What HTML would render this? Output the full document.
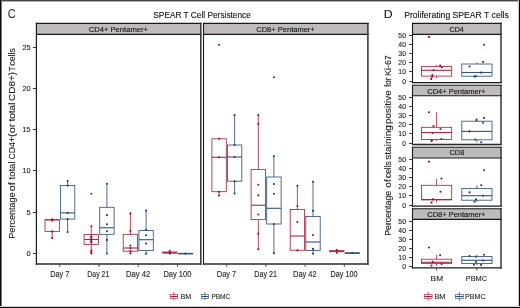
<!DOCTYPE html>
<html><head><meta charset="utf-8"><title>SPEAR T Cell Persistence</title>
<style>
html,body{margin:0;padding:0;background:#fff;}
body{width:520px;height:308px;overflow:hidden;font-family:"Liberation Sans",sans-serif;}
svg{display:block;will-change:transform;}
</style></head><body>
<svg xmlns="http://www.w3.org/2000/svg" width="520" height="308" viewBox="0 0 520 308" font-family="Liberation Sans, sans-serif">
<rect x="0" y="0" width="520" height="308" fill="#ffffff" stroke="none" stroke-width="1.0" />
<text x="7.70" y="17.85" font-size="12.48" fill="#333" text-anchor="start" textLength="7.85" lengthAdjust="spacingAndGlyphs"  stroke="#333" stroke-width="0.12">C</text>
<text x="153.30" y="17.75" font-size="8.98" fill="#111111" text-anchor="start" textLength="97.55" lengthAdjust="spacingAndGlyphs"  stroke="#111111" stroke-width="0.12">SPEAR T Cell Persistence</text>
<rect x="36.4" y="23.4" width="164.4" height="11.0" fill="#bebbbb" stroke="none" stroke-width="1.0" />
<line x1="35.8" y1="23.4" x2="201.55" y2="23.4" stroke="#1a1a1a" stroke-width="1.1" />
<line x1="35.8" y1="34.4" x2="201.55" y2="34.4" stroke="#1a1a1a" stroke-width="1.1" />
<line x1="35.8" y1="264.0" x2="201.55" y2="264.0" stroke="#2a2a2a" stroke-width="1.4" />
<line x1="36.4" y1="22.849999999999998" x2="36.4" y2="264.7" stroke="#1a1a1a" stroke-width="1.2" />
<line x1="200.8" y1="22.849999999999998" x2="200.8" y2="264.7" stroke="#333" stroke-width="1.5" />
<text x="88.75" y="31.50" font-size="7.6" fill="#111111" text-anchor="start" textLength="59.25" lengthAdjust="spacingAndGlyphs"  stroke="#111111" stroke-width="0.12">CD4+ Pentamer+</text>
<rect x="203.5" y="23.4" width="164.39999999999998" height="11.0" fill="#bebbbb" stroke="none" stroke-width="1.0" />
<line x1="202.95" y1="23.4" x2="368.7" y2="23.4" stroke="#1a1a1a" stroke-width="1.1" />
<line x1="202.95" y1="34.4" x2="368.7" y2="34.4" stroke="#1a1a1a" stroke-width="1.1" />
<line x1="202.95" y1="264.0" x2="368.7" y2="264.0" stroke="#2a2a2a" stroke-width="1.4" />
<line x1="203.5" y1="22.849999999999998" x2="203.5" y2="264.7" stroke="#1a1a1a" stroke-width="1.1" />
<line x1="367.9" y1="22.849999999999998" x2="367.9" y2="264.7" stroke="#3a3a3a" stroke-width="1.6" />
<text x="256.25" y="31.50" font-size="7.6" fill="#111111" text-anchor="start" textLength="58.50" lengthAdjust="spacingAndGlyphs"  stroke="#111111" stroke-width="0.12">CD8+ Pentamer+</text>
<line x1="32.9" y1="253.5" x2="36.4" y2="253.5" stroke="#333" stroke-width="1.0" />
<text x="30.65" y="256.00" font-size="7.3" fill="#262626" text-anchor="end"  stroke="#262626" stroke-width="0.12">0</text>
<line x1="32.9" y1="212.5" x2="36.4" y2="212.5" stroke="#333" stroke-width="1.0" />
<text x="30.60" y="214.85" font-size="7.59" fill="#262626" text-anchor="end"  stroke="#262626" stroke-width="0.12">5</text>
<line x1="32.9" y1="170.5" x2="36.4" y2="170.5" stroke="#333" stroke-width="1.0" />
<text x="30.60" y="173.45" font-size="7.3" fill="#262626" text-anchor="end"  stroke="#262626" stroke-width="0.12">10</text>
<line x1="32.9" y1="129.5" x2="36.4" y2="129.5" stroke="#333" stroke-width="1.0" />
<text x="30.60" y="132.30" font-size="7.59" fill="#262626" text-anchor="end"  stroke="#262626" stroke-width="0.12">15</text>
<line x1="32.9" y1="88.5" x2="36.4" y2="88.5" stroke="#333" stroke-width="1.0" />
<text x="30.60" y="91.15" font-size="7.3" fill="#262626" text-anchor="end"  stroke="#262626" stroke-width="0.12">20</text>
<line x1="32.9" y1="47.5" x2="36.4" y2="47.5" stroke="#333" stroke-width="1.0" />
<text x="30.60" y="50.00" font-size="7.3" fill="#262626" text-anchor="end"  stroke="#262626" stroke-width="0.12">25</text>
<text transform="translate(14.70,238.70) rotate(-90)" font-size="9" fill="#222" text-anchor="start" textLength="46.35" lengthAdjust="spacingAndGlyphs"  stroke="#222" stroke-width="0.12">Percentage</text>
<text transform="translate(14.70,191.15) rotate(-90)" font-size="9" fill="#222" text-anchor="start" textLength="8.85" lengthAdjust="spacingAndGlyphs"  stroke="#222" stroke-width="0.12">of</text>
<text transform="translate(14.70,179.50) rotate(-90)" font-size="9" fill="#222" text-anchor="start" textLength="18.05" lengthAdjust="spacingAndGlyphs"  stroke="#222" stroke-width="0.12">total</text>
<text transform="translate(14.70,159.55) rotate(-90)" font-size="9" fill="#222" text-anchor="start" textLength="22.65" lengthAdjust="spacingAndGlyphs"  stroke="#222" stroke-width="0.12">CD4+</text>
<text transform="translate(14.70,136.90) rotate(-90)" font-size="9" fill="#222" text-anchor="start" textLength="13.35" lengthAdjust="spacingAndGlyphs"  stroke="#222" stroke-width="0.12">(or</text>
<text transform="translate(14.70,121.50) rotate(-90)" font-size="9" fill="#222" text-anchor="start" textLength="18.90" lengthAdjust="spacingAndGlyphs"  stroke="#222" stroke-width="0.12">total</text>
<text transform="translate(14.70,100.95) rotate(-90)" font-size="9" fill="#222" text-anchor="start" textLength="29.00" lengthAdjust="spacingAndGlyphs"  stroke="#222" stroke-width="0.12">CD8+)</text>
<text transform="translate(14.70,71.25) rotate(-90)" font-size="9" fill="#222" text-anchor="start" textLength="4.75" lengthAdjust="spacingAndGlyphs"  stroke="#222" stroke-width="0.12">T</text>
<text transform="translate(14.70,65.75) rotate(-90)" font-size="9" fill="#222" text-anchor="start" textLength="17.60" lengthAdjust="spacingAndGlyphs"  stroke="#222" stroke-width="0.12">cells</text>
<line x1="59.8" y1="264.5" x2="59.8" y2="266.8" stroke="#333" stroke-width="0.9" />
<text x="59.84" y="277.05" font-size="8.3" fill="#262626" text-anchor="middle" textLength="19.25" lengthAdjust="spacingAndGlyphs"  stroke="#262626" stroke-width="0.12">Day 7</text>
<line x1="99.0" y1="264.5" x2="99.0" y2="266.8" stroke="#333" stroke-width="0.9" />
<text x="98.34" y="277.05" font-size="8.3" fill="#262626" text-anchor="middle" textLength="22.00" lengthAdjust="spacingAndGlyphs"  stroke="#262626" stroke-width="0.12">Day 21</text>
<line x1="138.2" y1="264.5" x2="138.2" y2="266.8" stroke="#333" stroke-width="0.9" />
<text x="138.22" y="277.05" font-size="8.3" fill="#262626" text-anchor="middle" textLength="24.25" lengthAdjust="spacingAndGlyphs"  stroke="#262626" stroke-width="0.12">Day 42</text>
<line x1="177.4" y1="264.5" x2="177.4" y2="266.8" stroke="#333" stroke-width="0.9" />
<text x="177.40" y="277.05" font-size="8.3" fill="#262626" text-anchor="middle" textLength="28.00" lengthAdjust="spacingAndGlyphs"  stroke="#262626" stroke-width="0.12">Day 100</text>
<line x1="226.7" y1="264.5" x2="226.7" y2="266.8" stroke="#333" stroke-width="0.9" />
<text x="226.50" y="277.05" font-size="8.3" fill="#262626" text-anchor="middle" textLength="19.50" lengthAdjust="spacingAndGlyphs"  stroke="#262626" stroke-width="0.12">Day 7</text>
<line x1="265.9" y1="264.5" x2="265.9" y2="266.8" stroke="#333" stroke-width="0.9" />
<text x="265.64" y="277.05" font-size="8.3" fill="#262626" text-anchor="middle" textLength="22.75" lengthAdjust="spacingAndGlyphs"  stroke="#262626" stroke-width="0.12">Day 21</text>
<line x1="305.1" y1="264.5" x2="305.1" y2="266.8" stroke="#333" stroke-width="0.9" />
<text x="304.86" y="277.05" font-size="8.3" fill="#262626" text-anchor="middle" textLength="23.50" lengthAdjust="spacingAndGlyphs"  stroke="#262626" stroke-width="0.12">Day 42</text>
<line x1="344.3" y1="264.5" x2="344.3" y2="266.8" stroke="#333" stroke-width="0.9" />
<text x="344.09" y="277.05" font-size="8.3" fill="#262626" text-anchor="middle" textLength="27.00" lengthAdjust="spacingAndGlyphs"  stroke="#262626" stroke-width="0.12">Day 100</text>
<line x1="52.2" y1="231.4" x2="52.2" y2="238.0" stroke="#a52a40" stroke-width="0.85" />
<rect x="45.0" y="219.8" width="14.4" height="11.599999999999994" fill="none" stroke="#a52a40" stroke-width="0.85" />
<line x1="45.0" y1="219.8" x2="59.400000000000006" y2="219.8" stroke="#a52a40" stroke-width="1.105" />
<circle cx="52.2" cy="219.2" r="1.05" fill="#9e0b25"/>
<circle cx="52.2" cy="220.6" r="1.05" fill="#9e0b25"/>
<circle cx="52.2" cy="231.4" r="1.05" fill="#9e0b25"/>
<circle cx="52.2" cy="238.0" r="1.05" fill="#9e0b25"/>
<line x1="67.6" y1="181.1" x2="67.6" y2="185.5" stroke="#33527f" stroke-width="0.85" />
<line x1="67.6" y1="219.1" x2="67.6" y2="232.1" stroke="#33527f" stroke-width="0.85" />
<rect x="60.39999999999999" y="185.5" width="14.4" height="33.599999999999994" fill="none" stroke="#33527f" stroke-width="0.85" />
<line x1="60.39999999999999" y1="212.9" x2="74.8" y2="212.9" stroke="#33527f" stroke-width="1.105" />
<circle cx="67.6" cy="181.1" r="1.05" fill="#1c3b6e"/>
<circle cx="67.6" cy="185.5" r="1.05" fill="#1c3b6e"/>
<circle cx="67.6" cy="212.9" r="1.05" fill="#1c3b6e"/>
<circle cx="67.6" cy="219.1" r="1.05" fill="#1c3b6e"/>
<circle cx="67.6" cy="232.1" r="1.05" fill="#1c3b6e"/>
<line x1="91.3" y1="226.3" x2="91.3" y2="234.5" stroke="#a52a40" stroke-width="0.85" />
<line x1="91.3" y1="244.4" x2="91.3" y2="253.6" stroke="#a52a40" stroke-width="0.85" />
<rect x="84.1" y="234.5" width="14.4" height="9.900000000000006" fill="none" stroke="#a52a40" stroke-width="0.85" />
<line x1="84.1" y1="239.5" x2="98.5" y2="239.5" stroke="#a52a40" stroke-width="1.105" />
<circle cx="91.3" cy="193.8" r="1.05" fill="#9e0b25"/>
<circle cx="91.3" cy="226.3" r="1.05" fill="#9e0b25"/>
<circle cx="91.3" cy="236.3" r="1.05" fill="#9e0b25"/>
<circle cx="91.3" cy="237.6" r="1.05" fill="#9e0b25"/>
<circle cx="91.3" cy="239.0" r="1.05" fill="#9e0b25"/>
<circle cx="91.3" cy="240.4" r="1.05" fill="#9e0b25"/>
<circle cx="91.3" cy="241.8" r="1.05" fill="#9e0b25"/>
<circle cx="91.3" cy="242.6" r="1.05" fill="#9e0b25"/>
<circle cx="91.3" cy="250.6" r="1.05" fill="#9e0b25"/>
<circle cx="91.3" cy="252.2" r="1.05" fill="#9e0b25"/>
<circle cx="91.3" cy="253.5" r="1.05" fill="#9e0b25"/>
<line x1="106.9" y1="183.7" x2="106.9" y2="207.3" stroke="#33527f" stroke-width="0.85" />
<line x1="106.9" y1="234.3" x2="106.9" y2="253.5" stroke="#33527f" stroke-width="0.85" />
<rect x="99.7" y="207.3" width="14.4" height="27.0" fill="none" stroke="#33527f" stroke-width="0.85" />
<line x1="99.7" y1="227.8" x2="114.10000000000001" y2="227.8" stroke="#33527f" stroke-width="1.105" />
<circle cx="106.9" cy="183.7" r="1.05" fill="#1c3b6e"/>
<circle cx="106.9" cy="215.1" r="1.05" fill="#1c3b6e"/>
<circle cx="106.9" cy="224.3" r="1.05" fill="#1c3b6e"/>
<circle cx="106.9" cy="231.3" r="1.05" fill="#1c3b6e"/>
<circle cx="106.9" cy="239.9" r="1.05" fill="#1c3b6e"/>
<circle cx="106.9" cy="253.5" r="1.05" fill="#1c3b6e"/>
<line x1="130.4" y1="213.4" x2="130.4" y2="234.3" stroke="#a52a40" stroke-width="0.85" />
<line x1="130.4" y1="251.2" x2="130.4" y2="253.5" stroke="#a52a40" stroke-width="0.85" />
<rect x="123.2" y="234.3" width="14.4" height="16.899999999999977" fill="none" stroke="#a52a40" stroke-width="0.85" />
<line x1="123.2" y1="248.0" x2="137.6" y2="248.0" stroke="#a52a40" stroke-width="1.105" />
<circle cx="130.4" cy="213.4" r="1.05" fill="#9e0b25"/>
<circle cx="130.4" cy="230.9" r="1.05" fill="#9e0b25"/>
<circle cx="130.4" cy="245.5" r="1.05" fill="#9e0b25"/>
<circle cx="130.4" cy="248.0" r="1.05" fill="#9e0b25"/>
<circle cx="130.4" cy="251.0" r="1.05" fill="#9e0b25"/>
<circle cx="130.4" cy="253.5" r="1.05" fill="#9e0b25"/>
<line x1="146.1" y1="210.6" x2="146.1" y2="230.5" stroke="#33527f" stroke-width="0.85" />
<line x1="146.1" y1="250.6" x2="146.1" y2="253.8" stroke="#33527f" stroke-width="0.85" />
<rect x="138.9" y="230.5" width="14.4" height="20.099999999999994" fill="none" stroke="#33527f" stroke-width="0.85" />
<line x1="138.9" y1="239.7" x2="153.29999999999998" y2="239.7" stroke="#33527f" stroke-width="1.105" />
<circle cx="146.1" cy="210.6" r="1.05" fill="#1c3b6e"/>
<circle cx="146.1" cy="229.8" r="1.05" fill="#1c3b6e"/>
<circle cx="146.1" cy="235.3" r="1.05" fill="#1c3b6e"/>
<circle cx="146.1" cy="243.6" r="1.05" fill="#1c3b6e"/>
<circle cx="146.1" cy="253.8" r="1.05" fill="#1c3b6e"/>
<rect x="162.60000000000002" y="252.0" width="14.4" height="1.0999999999999943" fill="none" stroke="#a52a40" stroke-width="0.85" />
<line x1="162.60000000000002" y1="252.6" x2="177.0" y2="252.6" stroke="#a52a40" stroke-width="1.105" />
<circle cx="169.8" cy="250.8" r="1.05" fill="#9e0b25"/>
<circle cx="169.8" cy="252.6" r="1.05" fill="#9e0b25"/>
<circle cx="169.8" cy="253.6" r="1.05" fill="#9e0b25"/>
<rect x="178.20000000000002" y="253.3" width="14.4" height="0.5999999999999943" fill="none" stroke="#33527f" stroke-width="0.85" />
<line x1="178.20000000000002" y1="253.6" x2="192.6" y2="253.6" stroke="#33527f" stroke-width="1.105" />
<circle cx="185.4" cy="253.6" r="1.05" fill="#1c3b6e"/>
<line x1="219.1" y1="191.7" x2="219.1" y2="195.6" stroke="#a52a40" stroke-width="0.85" />
<rect x="211.9" y="138.8" width="14.4" height="52.89999999999998" fill="none" stroke="#a52a40" stroke-width="0.85" />
<line x1="211.9" y1="157.3" x2="226.29999999999998" y2="157.3" stroke="#a52a40" stroke-width="1.105" />
<circle cx="219.1" cy="44.8" r="1.05" fill="#9e0b25"/>
<circle cx="219.1" cy="138.8" r="1.05" fill="#9e0b25"/>
<circle cx="219.1" cy="157.3" r="1.05" fill="#9e0b25"/>
<circle cx="219.1" cy="191.7" r="1.05" fill="#9e0b25"/>
<circle cx="219.1" cy="195.6" r="1.05" fill="#9e0b25"/>
<line x1="234.6" y1="115.1" x2="234.6" y2="145.0" stroke="#33527f" stroke-width="0.85" />
<line x1="234.6" y1="181.2" x2="234.6" y2="193.5" stroke="#33527f" stroke-width="0.85" />
<rect x="227.4" y="145.0" width="14.4" height="36.19999999999999" fill="none" stroke="#33527f" stroke-width="0.85" />
<line x1="227.4" y1="157.0" x2="241.79999999999998" y2="157.0" stroke="#33527f" stroke-width="1.105" />
<circle cx="234.6" cy="115.1" r="1.05" fill="#1c3b6e"/>
<circle cx="234.6" cy="145.0" r="1.05" fill="#1c3b6e"/>
<circle cx="234.6" cy="157.0" r="1.05" fill="#1c3b6e"/>
<circle cx="234.6" cy="181.2" r="1.05" fill="#1c3b6e"/>
<circle cx="234.6" cy="193.5" r="1.05" fill="#1c3b6e"/>
<line x1="258.3" y1="115.1" x2="258.3" y2="169.4" stroke="#a52a40" stroke-width="0.85" />
<line x1="258.3" y1="219.6" x2="258.3" y2="249.3" stroke="#a52a40" stroke-width="0.85" />
<rect x="251.10000000000002" y="169.4" width="14.4" height="50.19999999999999" fill="none" stroke="#a52a40" stroke-width="0.85" />
<line x1="251.10000000000002" y1="205.2" x2="265.5" y2="205.2" stroke="#a52a40" stroke-width="1.105" />
<circle cx="258.3" cy="115.1" r="1.05" fill="#9e0b25"/>
<circle cx="258.3" cy="123.8" r="1.05" fill="#9e0b25"/>
<circle cx="258.3" cy="184.8" r="1.05" fill="#9e0b25"/>
<circle cx="258.3" cy="195.4" r="1.05" fill="#9e0b25"/>
<circle cx="258.3" cy="214.5" r="1.05" fill="#9e0b25"/>
<circle cx="258.3" cy="233.6" r="1.05" fill="#9e0b25"/>
<circle cx="258.3" cy="249.3" r="1.05" fill="#9e0b25"/>
<line x1="273.9" y1="156.2" x2="273.9" y2="177.0" stroke="#33527f" stroke-width="0.85" />
<line x1="273.9" y1="224.0" x2="273.9" y2="253.3" stroke="#33527f" stroke-width="0.85" />
<rect x="266.7" y="177.0" width="14.4" height="47.0" fill="none" stroke="#33527f" stroke-width="0.85" />
<line x1="266.7" y1="208.3" x2="281.09999999999997" y2="208.3" stroke="#33527f" stroke-width="1.105" />
<circle cx="273.9" cy="77.3" r="1.05" fill="#1c3b6e"/>
<circle cx="273.9" cy="156.2" r="1.05" fill="#1c3b6e"/>
<circle cx="273.9" cy="184.0" r="1.05" fill="#1c3b6e"/>
<circle cx="273.9" cy="193.8" r="1.05" fill="#1c3b6e"/>
<circle cx="273.9" cy="224.0" r="1.05" fill="#1c3b6e"/>
<circle cx="273.9" cy="253.3" r="1.05" fill="#1c3b6e"/>
<line x1="297.4" y1="185.8" x2="297.4" y2="209.5" stroke="#a52a40" stroke-width="0.85" />
<rect x="290.2" y="209.5" width="14.4" height="40.69999999999999" fill="none" stroke="#a52a40" stroke-width="0.85" />
<line x1="290.2" y1="236.0" x2="304.59999999999997" y2="236.0" stroke="#a52a40" stroke-width="1.105" />
<circle cx="297.4" cy="185.8" r="1.05" fill="#9e0b25"/>
<circle cx="297.4" cy="206.0" r="1.05" fill="#9e0b25"/>
<circle cx="297.4" cy="222.0" r="1.05" fill="#9e0b25"/>
<circle cx="297.4" cy="250.4" r="1.05" fill="#9e0b25"/>
<line x1="313.0" y1="181.8" x2="313.0" y2="216.5" stroke="#33527f" stroke-width="0.85" />
<line x1="313.0" y1="250.4" x2="313.0" y2="253.8" stroke="#33527f" stroke-width="0.85" />
<rect x="305.8" y="216.5" width="14.4" height="33.900000000000006" fill="none" stroke="#33527f" stroke-width="0.85" />
<line x1="305.8" y1="242.0" x2="320.2" y2="242.0" stroke="#33527f" stroke-width="1.105" />
<circle cx="313.0" cy="181.8" r="1.05" fill="#1c3b6e"/>
<circle cx="313.0" cy="210.8" r="1.05" fill="#1c3b6e"/>
<circle cx="313.0" cy="235.0" r="1.05" fill="#1c3b6e"/>
<circle cx="313.0" cy="248.9" r="1.05" fill="#1c3b6e"/>
<circle cx="313.0" cy="253.8" r="1.05" fill="#1c3b6e"/>
<rect x="329.6" y="250.7" width="14.4" height="1.0" fill="none" stroke="#a52a40" stroke-width="0.85" />
<line x1="329.6" y1="251.2" x2="344.0" y2="251.2" stroke="#a52a40" stroke-width="1.105" />
<circle cx="336.8" cy="250.0" r="1.05" fill="#9e0b25"/>
<circle cx="336.8" cy="252.8" r="1.05" fill="#9e0b25"/>
<rect x="345.1" y="252.8" width="14.4" height="0.5999999999999943" fill="none" stroke="#33527f" stroke-width="0.85" />
<line x1="345.1" y1="253.1" x2="359.5" y2="253.1" stroke="#33527f" stroke-width="1.105" />
<circle cx="352.3" cy="253.1" r="1.05" fill="#1c3b6e"/>
<line x1="173.85" y1="292.2" x2="173.85" y2="294.5" stroke="#a52a40" stroke-width="0.85" />
<line x1="173.85" y1="298.5" x2="173.85" y2="300.0" stroke="#a52a40" stroke-width="0.85" />
<rect x="170.2" y="294.5" width="7.300000000000011" height="4.0" fill="none" stroke="#a52a40" stroke-width="0.765" stroke-opacity="0.85"/>
<line x1="170.2" y1="296.5" x2="177.5" y2="296.5" stroke="#a52a40" stroke-width="1.0" />
<circle cx="173.85" cy="296.5" r="0.95" fill="#9e0b25"/>
<text x="180.40" y="298.75" font-size="7.65" fill="#262626" text-anchor="start" textLength="10.80" lengthAdjust="spacingAndGlyphs"  stroke="#262626" stroke-width="0.12">BM</text>
<line x1="204.9" y1="292.3" x2="204.9" y2="294.5" stroke="#33527f" stroke-width="0.85" />
<line x1="204.9" y1="298.5" x2="204.9" y2="299.8" stroke="#33527f" stroke-width="0.85" />
<rect x="201.3" y="294.5" width="7.199999999999989" height="4.0" fill="none" stroke="#33527f" stroke-width="0.765" stroke-opacity="0.85"/>
<line x1="201.3" y1="296.5" x2="208.5" y2="296.5" stroke="#33527f" stroke-width="1.0" />
<circle cx="204.9" cy="296.5" r="0.95" fill="#1c3b6e"/>
<text x="211.40" y="298.75" font-size="7.8" fill="#262626" text-anchor="start" textLength="18.75" lengthAdjust="spacingAndGlyphs"  stroke="#262626" stroke-width="0.12">PBMC</text>
<text x="383.85" y="17.50" font-size="11.4" fill="#222" text-anchor="start" textLength="8.90" lengthAdjust="spacingAndGlyphs"  stroke="#222" stroke-width="0.12">D</text>
<text x="404.15" y="17.50" font-size="9" fill="#111111" text-anchor="start" textLength="104.70" lengthAdjust="spacingAndGlyphs"  stroke="#111111" stroke-width="0.12">Proliferating SPEAR T cells</text>
<rect x="412.5" y="23.4" width="88.5" height="11.0" fill="#bebbbb" stroke="none" stroke-width="1.0" />
<line x1="411.95" y1="23.4" x2="501.7" y2="23.4" stroke="#1a1a1a" stroke-width="1.1" />
<line x1="411.95" y1="34.4" x2="501.7" y2="34.4" stroke="#1a1a1a" stroke-width="1.1" />
<line x1="411.95" y1="82.6" x2="501.7" y2="82.6" stroke="#1a1a1a" stroke-width="1.2" />
<line x1="412.5" y1="22.849999999999998" x2="412.5" y2="83.19999999999999" stroke="#1a1a1a" stroke-width="1.1" />
<line x1="501.0" y1="22.849999999999998" x2="501.0" y2="83.19999999999999" stroke="#2a2a2a" stroke-width="1.4" />
<text x="449.50" y="31.50" font-size="7.5" fill="#111111" text-anchor="start" textLength="14.25" lengthAdjust="spacingAndGlyphs"  stroke="#111111" stroke-width="0.12">CD4</text>
<line x1="409.2" y1="81.5" x2="412.5" y2="81.5" stroke="#333" stroke-width="1.0" />
<text x="406.00" y="83.50" font-size="6.87" fill="#262626" text-anchor="end"  stroke="#262626" stroke-width="0.12">0</text>
<line x1="409.2" y1="71.5" x2="412.5" y2="71.5" stroke="#333" stroke-width="1.0" />
<text x="406.00" y="74.35" font-size="6.87" fill="#262626" text-anchor="end"  stroke="#262626" stroke-width="0.12">10</text>
<line x1="409.2" y1="62.5" x2="412.5" y2="62.5" stroke="#333" stroke-width="1.0" />
<text x="406.00" y="65.20" font-size="6.87" fill="#262626" text-anchor="end"  stroke="#262626" stroke-width="0.12">20</text>
<line x1="409.2" y1="53.5" x2="412.5" y2="53.5" stroke="#333" stroke-width="1.0" />
<text x="406.00" y="56.05" font-size="6.87" fill="#262626" text-anchor="end"  stroke="#262626" stroke-width="0.12">30</text>
<line x1="409.2" y1="44.5" x2="412.5" y2="44.5" stroke="#333" stroke-width="1.0" />
<text x="406.00" y="46.90" font-size="6.87" fill="#262626" text-anchor="end"  stroke="#262626" stroke-width="0.12">40</text>
<line x1="409.2" y1="35.5" x2="412.5" y2="35.5" stroke="#333" stroke-width="1.0" />
<text x="406.00" y="38.00" font-size="6.87" fill="#262626" text-anchor="end"  stroke="#262626" stroke-width="0.12">50</text>
<rect x="412.5" y="85.3" width="88.5" height="10.5" fill="#bebbbb" stroke="none" stroke-width="1.0" />
<line x1="411.95" y1="85.3" x2="501.7" y2="85.3" stroke="#1a1a1a" stroke-width="1.1" />
<line x1="411.95" y1="95.8" x2="501.7" y2="95.8" stroke="#1a1a1a" stroke-width="1.1" />
<line x1="411.95" y1="144.3" x2="501.7" y2="144.3" stroke="#1a1a1a" stroke-width="1.2" />
<line x1="412.5" y1="84.75" x2="412.5" y2="144.9" stroke="#1a1a1a" stroke-width="1.1" />
<line x1="501.0" y1="84.75" x2="501.0" y2="144.9" stroke="#2a2a2a" stroke-width="1.4" />
<text x="427.25" y="93.50" font-size="7.5" fill="#111111" text-anchor="start" textLength="58.25" lengthAdjust="spacingAndGlyphs"  stroke="#111111" stroke-width="0.12">CD4+ Pentamer+</text>
<line x1="409.2" y1="143.5" x2="412.5" y2="143.5" stroke="#333" stroke-width="1.0" />
<text x="406.00" y="145.50" font-size="6.87" fill="#262626" text-anchor="end"  stroke="#262626" stroke-width="0.12">0</text>
<line x1="409.2" y1="133.5" x2="412.5" y2="133.5" stroke="#333" stroke-width="1.0" />
<text x="406.00" y="136.35" font-size="6.87" fill="#262626" text-anchor="end"  stroke="#262626" stroke-width="0.12">10</text>
<line x1="409.2" y1="124.5" x2="412.5" y2="124.5" stroke="#333" stroke-width="1.0" />
<text x="406.00" y="127.20" font-size="6.87" fill="#262626" text-anchor="end"  stroke="#262626" stroke-width="0.12">20</text>
<line x1="409.2" y1="115.5" x2="412.5" y2="115.5" stroke="#333" stroke-width="1.0" />
<text x="406.00" y="118.05" font-size="6.87" fill="#262626" text-anchor="end"  stroke="#262626" stroke-width="0.12">30</text>
<line x1="409.2" y1="106.5" x2="412.5" y2="106.5" stroke="#333" stroke-width="1.0" />
<text x="406.00" y="108.90" font-size="6.87" fill="#262626" text-anchor="end"  stroke="#262626" stroke-width="0.12">40</text>
<line x1="409.2" y1="97.5" x2="412.5" y2="97.5" stroke="#333" stroke-width="1.0" />
<text x="406.00" y="100.00" font-size="6.87" fill="#262626" text-anchor="end"  stroke="#262626" stroke-width="0.12">50</text>
<rect x="412.5" y="147.2" width="88.5" height="10.800000000000011" fill="#bebbbb" stroke="none" stroke-width="1.0" />
<line x1="411.95" y1="147.2" x2="501.7" y2="147.2" stroke="#1a1a1a" stroke-width="1.1" />
<line x1="411.95" y1="158.0" x2="501.7" y2="158.0" stroke="#1a1a1a" stroke-width="1.1" />
<line x1="411.95" y1="206.2" x2="501.7" y2="206.2" stroke="#1a1a1a" stroke-width="1.2" />
<line x1="412.5" y1="146.64999999999998" x2="412.5" y2="206.79999999999998" stroke="#1a1a1a" stroke-width="1.1" />
<line x1="501.0" y1="146.64999999999998" x2="501.0" y2="206.79999999999998" stroke="#2a2a2a" stroke-width="1.4" />
<text x="449.50" y="155.25" font-size="7.5" fill="#111111" text-anchor="start" textLength="14.75" lengthAdjust="spacingAndGlyphs"  stroke="#111111" stroke-width="0.12">CD8</text>
<line x1="409.2" y1="205.5" x2="412.5" y2="205.5" stroke="#333" stroke-width="1.0" />
<text x="406.00" y="207.50" font-size="6.87" fill="#262626" text-anchor="end"  stroke="#262626" stroke-width="0.12">0</text>
<line x1="409.2" y1="195.5" x2="412.5" y2="195.5" stroke="#333" stroke-width="1.0" />
<text x="406.00" y="198.35" font-size="6.87" fill="#262626" text-anchor="end"  stroke="#262626" stroke-width="0.12">10</text>
<line x1="409.2" y1="186.5" x2="412.5" y2="186.5" stroke="#333" stroke-width="1.0" />
<text x="406.00" y="189.20" font-size="6.87" fill="#262626" text-anchor="end"  stroke="#262626" stroke-width="0.12">20</text>
<line x1="409.2" y1="177.5" x2="412.5" y2="177.5" stroke="#333" stroke-width="1.0" />
<text x="406.00" y="180.05" font-size="6.87" fill="#262626" text-anchor="end"  stroke="#262626" stroke-width="0.12">30</text>
<line x1="409.2" y1="168.5" x2="412.5" y2="168.5" stroke="#333" stroke-width="1.0" />
<text x="406.00" y="170.90" font-size="6.87" fill="#262626" text-anchor="end"  stroke="#262626" stroke-width="0.12">40</text>
<line x1="409.2" y1="159.5" x2="412.5" y2="159.5" stroke="#333" stroke-width="1.0" />
<text x="406.00" y="161.75" font-size="6.87" fill="#262626" text-anchor="end"  stroke="#262626" stroke-width="0.12">50</text>
<rect x="412.5" y="208.7" width="88.5" height="10.700000000000017" fill="#bebbbb" stroke="none" stroke-width="1.0" />
<line x1="411.95" y1="208.7" x2="501.7" y2="208.7" stroke="#1a1a1a" stroke-width="1.1" />
<line x1="411.95" y1="219.4" x2="501.7" y2="219.4" stroke="#1a1a1a" stroke-width="1.1" />
<line x1="411.95" y1="267.9" x2="501.7" y2="267.9" stroke="#1a1a1a" stroke-width="1.2" />
<line x1="412.5" y1="208.14999999999998" x2="412.5" y2="268.5" stroke="#1a1a1a" stroke-width="1.1" />
<line x1="501.0" y1="208.14999999999998" x2="501.0" y2="268.5" stroke="#2a2a2a" stroke-width="1.4" />
<text x="427.25" y="217.00" font-size="7.5" fill="#111111" text-anchor="start" textLength="58.25" lengthAdjust="spacingAndGlyphs"  stroke="#111111" stroke-width="0.12">CD8+ Pentamer+</text>
<line x1="409.2" y1="266.5" x2="412.5" y2="266.5" stroke="#333" stroke-width="1.0" />
<text x="406.00" y="269.00" font-size="6.87" fill="#262626" text-anchor="end"  stroke="#262626" stroke-width="0.12">0</text>
<line x1="409.2" y1="257.5" x2="412.5" y2="257.5" stroke="#333" stroke-width="1.0" />
<text x="406.00" y="260.10" font-size="6.87" fill="#262626" text-anchor="end"  stroke="#262626" stroke-width="0.12">10</text>
<line x1="409.2" y1="248.5" x2="412.5" y2="248.5" stroke="#333" stroke-width="1.0" />
<text x="406.00" y="250.95" font-size="6.87" fill="#262626" text-anchor="end"  stroke="#262626" stroke-width="0.12">20</text>
<line x1="409.2" y1="239.5" x2="412.5" y2="239.5" stroke="#333" stroke-width="1.0" />
<text x="406.00" y="241.80" font-size="6.87" fill="#262626" text-anchor="end"  stroke="#262626" stroke-width="0.12">30</text>
<line x1="409.2" y1="230.5" x2="412.5" y2="230.5" stroke="#333" stroke-width="1.0" />
<text x="406.00" y="232.65" font-size="6.87" fill="#262626" text-anchor="end"  stroke="#262626" stroke-width="0.12">40</text>
<line x1="409.2" y1="221.5" x2="412.5" y2="221.5" stroke="#333" stroke-width="1.0" />
<text x="406.00" y="223.50" font-size="6.87" fill="#262626" text-anchor="end"  stroke="#262626" stroke-width="0.12">50</text>
<text transform="translate(391.20,235.85) rotate(-90)" font-size="9" fill="#222" text-anchor="start" textLength="45.10" lengthAdjust="spacingAndGlyphs"  stroke="#222" stroke-width="0.12">Percentage</text>
<text transform="translate(391.20,187.65) rotate(-90)" font-size="9" fill="#222" text-anchor="start" textLength="8.30" lengthAdjust="spacingAndGlyphs"  stroke="#222" stroke-width="0.12">of</text>
<text transform="translate(391.20,178.10) rotate(-90)" font-size="9" fill="#222" text-anchor="start" textLength="16.95" lengthAdjust="spacingAndGlyphs"  stroke="#222" stroke-width="0.12">cells</text>
<text transform="translate(391.20,159.75) rotate(-90)" font-size="9" fill="#222" text-anchor="start" textLength="34.65" lengthAdjust="spacingAndGlyphs"  stroke="#222" stroke-width="0.12">staining</text>
<text transform="translate(391.20,124.00) rotate(-90)" font-size="9" fill="#222" text-anchor="start" textLength="33.65" lengthAdjust="spacingAndGlyphs"  stroke="#222" stroke-width="0.12">positive</text>
<text transform="translate(391.20,86.95) rotate(-90)" font-size="9" fill="#222" text-anchor="start" textLength="9.35" lengthAdjust="spacingAndGlyphs"  stroke="#222" stroke-width="0.12">for</text>
<text transform="translate(391.20,75.90) rotate(-90)" font-size="9" fill="#222" text-anchor="start" textLength="20.65" lengthAdjust="spacingAndGlyphs"  stroke="#222" stroke-width="0.12">Ki-67</text>
<line x1="436.6" y1="268.5" x2="436.6" y2="270.6" stroke="#333" stroke-width="0.9" />
<text x="436.84" y="281.00" font-size="7.38" fill="#262626" text-anchor="middle" textLength="12.50" lengthAdjust="spacingAndGlyphs"  stroke="#262626" stroke-width="0.12">BM</text>
<line x1="476.9" y1="268.5" x2="476.9" y2="270.6" stroke="#333" stroke-width="0.9" />
<text x="476.36" y="281.00" font-size="7.35" fill="#262626" text-anchor="middle" textLength="21.25" lengthAdjust="spacingAndGlyphs"  stroke="#262626" stroke-width="0.12">PBMC</text>
<line x1="436.6" y1="65.2" x2="436.6" y2="66.4" stroke="#a52a40" stroke-width="0.85" />
<line x1="436.6" y1="76.1" x2="436.6" y2="78.3" stroke="#a52a40" stroke-width="0.85" />
<rect x="421.5" y="66.4" width="30.2" height="9.699999999999989" fill="none" stroke="#a52a40" stroke-width="0.85" />
<line x1="421.5" y1="70.3" x2="451.70000000000005" y2="70.3" stroke="#a52a40" stroke-width="1.105" />
<circle cx="429.0" cy="36.9" r="1.05" fill="#9e0b25"/>
<circle cx="440.2" cy="65.6" r="1.05" fill="#9e0b25"/>
<circle cx="441.8" cy="67.3" r="1.05" fill="#9e0b25"/>
<circle cx="433.6" cy="70.3" r="1.05" fill="#9e0b25"/>
<circle cx="432.4" cy="75.0" r="1.05" fill="#9e0b25"/>
<circle cx="432.0" cy="76.7" r="1.05" fill="#9e0b25"/>
<circle cx="431.2" cy="78.9" r="1.05" fill="#9e0b25"/>
<line x1="476.9" y1="62.3" x2="476.9" y2="64.0" stroke="#33527f" stroke-width="0.85" />
<line x1="476.9" y1="76.2" x2="476.9" y2="76.6" stroke="#33527f" stroke-width="0.85" />
<rect x="461.79999999999995" y="64.0" width="30.2" height="12.200000000000003" fill="none" stroke="#33527f" stroke-width="0.85" />
<line x1="461.79999999999995" y1="72.5" x2="492.0" y2="72.5" stroke="#33527f" stroke-width="1.105" />
<circle cx="484.1" cy="44.7" r="1.05" fill="#1c3b6e"/>
<circle cx="483.1" cy="61.9" r="1.05" fill="#1c3b6e"/>
<circle cx="469.5" cy="66.5" r="1.05" fill="#1c3b6e"/>
<circle cx="481.2" cy="72.6" r="1.05" fill="#1c3b6e"/>
<circle cx="474.7" cy="76.5" r="1.05" fill="#1c3b6e"/>
<circle cx="475.8" cy="76.2" r="1.05" fill="#1c3b6e"/>
<line x1="436.6" y1="112.2" x2="436.6" y2="127.3" stroke="#a52a40" stroke-width="0.85" />
<line x1="436.6" y1="139.5" x2="436.6" y2="141.0" stroke="#a52a40" stroke-width="0.85" />
<rect x="421.5" y="127.3" width="30.2" height="12.200000000000003" fill="none" stroke="#a52a40" stroke-width="0.85" />
<line x1="421.5" y1="132.5" x2="451.70000000000005" y2="132.5" stroke="#a52a40" stroke-width="1.105" />
<circle cx="429.0" cy="112.2" r="1.05" fill="#9e0b25"/>
<circle cx="433.5" cy="126.0" r="1.05" fill="#9e0b25"/>
<circle cx="440.5" cy="129.0" r="1.05" fill="#9e0b25"/>
<circle cx="432.6" cy="133.0" r="1.05" fill="#9e0b25"/>
<circle cx="441.5" cy="139.0" r="1.05" fill="#9e0b25"/>
<circle cx="432.0" cy="140.2" r="1.05" fill="#9e0b25"/>
<circle cx="431.5" cy="141.0" r="1.05" fill="#9e0b25"/>
<line x1="476.9" y1="118.0" x2="476.9" y2="121.2" stroke="#33527f" stroke-width="0.85" />
<line x1="476.9" y1="139.8" x2="476.9" y2="142.3" stroke="#33527f" stroke-width="0.85" />
<rect x="461.79999999999995" y="121.2" width="30.2" height="18.60000000000001" fill="none" stroke="#33527f" stroke-width="0.85" />
<line x1="461.79999999999995" y1="131.4" x2="492.0" y2="131.4" stroke="#33527f" stroke-width="1.105" />
<circle cx="484.1" cy="117.9" r="1.05" fill="#1c3b6e"/>
<circle cx="483.1" cy="122.8" r="1.05" fill="#1c3b6e"/>
<circle cx="476.3" cy="120.0" r="1.05" fill="#1c3b6e"/>
<circle cx="469.5" cy="131.4" r="1.05" fill="#1c3b6e"/>
<circle cx="475.2" cy="139.5" r="1.05" fill="#1c3b6e"/>
<circle cx="481.2" cy="142.3" r="1.05" fill="#1c3b6e"/>
<line x1="436.6" y1="178.8" x2="436.6" y2="185.3" stroke="#a52a40" stroke-width="0.85" />
<line x1="436.6" y1="199.9" x2="436.6" y2="202.5" stroke="#a52a40" stroke-width="0.85" />
<rect x="421.5" y="185.3" width="30.2" height="14.599999999999994" fill="none" stroke="#a52a40" stroke-width="0.85" />
<line x1="421.5" y1="199.5" x2="451.70000000000005" y2="199.5" stroke="#a52a40" stroke-width="1.105" />
<circle cx="429.0" cy="161.6" r="1.05" fill="#9e0b25"/>
<circle cx="441.5" cy="178.6" r="1.05" fill="#9e0b25"/>
<circle cx="440.5" cy="191.8" r="1.05" fill="#9e0b25"/>
<circle cx="433.0" cy="199.4" r="1.05" fill="#9e0b25"/>
<circle cx="431.5" cy="202.6" r="1.05" fill="#9e0b25"/>
<line x1="476.9" y1="185.3" x2="476.9" y2="188.4" stroke="#33527f" stroke-width="0.85" />
<line x1="476.9" y1="200.2" x2="476.9" y2="201.8" stroke="#33527f" stroke-width="0.85" />
<rect x="461.79999999999995" y="188.4" width="30.2" height="11.799999999999983" fill="none" stroke="#33527f" stroke-width="0.85" />
<line x1="461.79999999999995" y1="195.7" x2="492.0" y2="195.7" stroke="#33527f" stroke-width="1.105" />
<circle cx="484.1" cy="170.2" r="1.05" fill="#1c3b6e"/>
<circle cx="481.2" cy="185.3" r="1.05" fill="#1c3b6e"/>
<circle cx="469.5" cy="192.4" r="1.05" fill="#1c3b6e"/>
<circle cx="483.1" cy="195.7" r="1.05" fill="#1c3b6e"/>
<circle cx="476.0" cy="199.4" r="1.05" fill="#1c3b6e"/>
<circle cx="474.5" cy="201.8" r="1.05" fill="#1c3b6e"/>
<line x1="436.6" y1="255.0" x2="436.6" y2="259.2" stroke="#a52a40" stroke-width="0.85" />
<line x1="436.6" y1="263.4" x2="436.6" y2="266.0" stroke="#a52a40" stroke-width="0.85" />
<rect x="421.5" y="259.2" width="30.2" height="4.199999999999989" fill="none" stroke="#a52a40" stroke-width="0.85" />
<line x1="421.5" y1="262.3" x2="451.70000000000005" y2="262.3" stroke="#a52a40" stroke-width="1.105" />
<circle cx="429.0" cy="247.5" r="1.05" fill="#9e0b25"/>
<circle cx="440.1" cy="255.1" r="1.05" fill="#9e0b25"/>
<circle cx="432.8" cy="261.9" r="1.05" fill="#9e0b25"/>
<circle cx="441.6" cy="264.1" r="1.05" fill="#9e0b25"/>
<circle cx="431.5" cy="265.5" r="1.05" fill="#9e0b25"/>
<line x1="476.9" y1="254.8" x2="476.9" y2="256.5" stroke="#33527f" stroke-width="0.85" />
<line x1="476.9" y1="263.6" x2="476.9" y2="265.0" stroke="#33527f" stroke-width="0.85" />
<rect x="461.79999999999995" y="256.5" width="30.2" height="7.100000000000023" fill="none" stroke="#33527f" stroke-width="0.85" />
<line x1="461.79999999999995" y1="260.3" x2="492.0" y2="260.3" stroke="#33527f" stroke-width="1.105" />
<circle cx="469.5" cy="256.1" r="1.05" fill="#1c3b6e"/>
<circle cx="475.8" cy="256.7" r="1.05" fill="#1c3b6e"/>
<circle cx="484.1" cy="254.8" r="1.05" fill="#1c3b6e"/>
<circle cx="483.2" cy="260.5" r="1.05" fill="#1c3b6e"/>
<circle cx="476.1" cy="262.1" r="1.05" fill="#1c3b6e"/>
<circle cx="473.9" cy="264.7" r="1.05" fill="#1c3b6e"/>
<circle cx="481.1" cy="264.9" r="1.05" fill="#1c3b6e"/>
<line x1="428.20000000000005" y1="292.2" x2="428.20000000000005" y2="294.5" stroke="#a52a40" stroke-width="0.85" />
<line x1="428.20000000000005" y1="298.5" x2="428.20000000000005" y2="300.5" stroke="#a52a40" stroke-width="0.85" />
<rect x="424.3" y="294.5" width="7.800000000000011" height="4.0" fill="none" stroke="#a52a40" stroke-width="0.765" stroke-opacity="0.85"/>
<line x1="424.3" y1="296.5" x2="432.1" y2="296.5" stroke="#a52a40" stroke-width="1.0" />
<circle cx="428.20000000000005" cy="296.5" r="0.95" fill="#9e0b25"/>
<text x="434.40" y="298.75" font-size="7.4" fill="#262626" text-anchor="start" textLength="11.15" lengthAdjust="spacingAndGlyphs"  stroke="#262626" stroke-width="0.12">BM</text>
<line x1="459.4" y1="292.2" x2="459.4" y2="294.5" stroke="#33527f" stroke-width="0.85" />
<line x1="459.4" y1="298.5" x2="459.4" y2="300.5" stroke="#33527f" stroke-width="0.85" />
<rect x="455.5" y="294.5" width="7.800000000000011" height="4.0" fill="none" stroke="#33527f" stroke-width="0.765" stroke-opacity="0.85"/>
<line x1="455.5" y1="296.5" x2="463.3" y2="296.5" stroke="#33527f" stroke-width="1.0" />
<circle cx="459.4" cy="296.5" r="0.95" fill="#1c3b6e"/>
<text x="465.00" y="298.75" font-size="7.15" fill="#262626" text-anchor="start" textLength="20.60" lengthAdjust="spacingAndGlyphs"  stroke="#262626" stroke-width="0.12">PBMC</text>
<rect x="412" y="83.2" width="89.7" height="1.6" fill="#b9b9b9" stroke="none" stroke-width="1.0" />
<rect x="412" y="144.9" width="89.7" height="1.7" fill="#b9b9b9" stroke="none" stroke-width="1.0" />
<rect x="0" y="0" width="520" height="1" fill="#444444" stroke="none" stroke-width="1.0" />
<rect x="0" y="1" width="520" height="1" fill="#b0b0b0" stroke="none" stroke-width="1.0" />
<rect x="0" y="0" width="1" height="308" fill="#0a0a0a" stroke="none" stroke-width="1.0" />
<rect x="1" y="0" width="1" height="308" fill="#7a7a7a" stroke="none" stroke-width="1.0" />
<rect x="519" y="0" width="1" height="308" fill="#0a0a0a" stroke="none" stroke-width="1.0" />
<rect x="518" y="0" width="1" height="308" fill="#c8c8c8" stroke="none" stroke-width="1.0" />
<rect x="0" y="307" width="520" height="1" fill="#0a0a0a" stroke="none" stroke-width="1.0" />
<rect x="0" y="306" width="520" height="1" fill="#d0d0d0" stroke="none" stroke-width="1.0" />
</svg>
</body></html>
